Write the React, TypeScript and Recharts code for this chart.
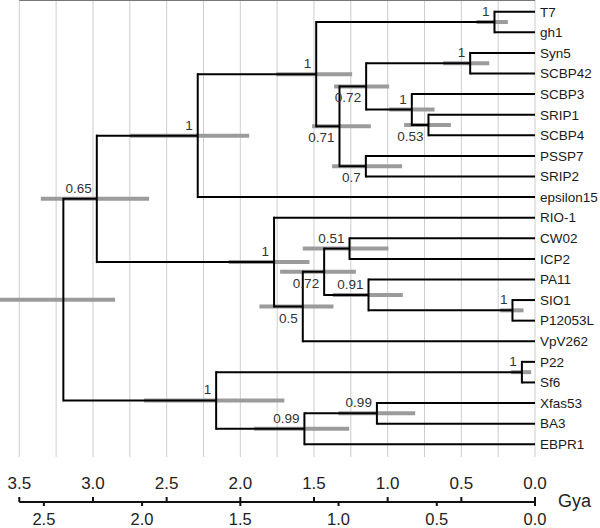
import React from 'react';
import { ComposedChart, XAxis, YAxis, CartesianGrid, ReferenceLine, ReferenceDot, Label, Scatter } from 'recharts';

// ---- data ----
const LEAVES = ['T7', 'gh1', 'Syn5', 'SCBP42', 'SCBP3', 'SRIP1', 'SCBP4', 'PSSP7', 'SRIP2', 'epsilon15', 'RIO-1', 'CW02', 'ICP2', 'PA11', 'SIO1', 'P12053L', 'VpV262', 'P22', 'Sf6', 'Xfas53', 'BA3', 'EBPR1'];

const NODE_IDS = ['n1', 'n2', 'n3', 'n4', 'n5', 'n6', 'n7', 'n8', 'n9', 'n10', 'n11', 'n12', 'n13', 'n14', 'n15', 'n16', 'n17', 'n18', 'n19', 'n20', 'root'];

const NODE_CHILDREN: [string, string][] = [
  ['T7', 'gh1'],
  ['Syn5', 'SCBP42'],
  ['SRIP1', 'SCBP4'],
  ['SCBP3', 'n3'],
  ['n2', 'n4'],
  ['PSSP7', 'SRIP2'],
  ['n5', 'n6'],
  ['n1', 'n7'],
  ['n8', 'epsilon15'],
  ['CW02', 'ICP2'],
  ['SIO1', 'P12053L'],
  ['PA11', 'n11'],
  ['n10', 'n12'],
  ['n13', 'VpV262'],
  ['RIO-1', 'n14'],
  ['n9', 'n15'],
  ['P22', 'Sf6'],
  ['Xfas53', 'BA3'],
  ['n18', 'EBPR1'],
  ['n17', 'n19'],
  ['n16', 'n20'],
];

// node ages (Gya)
const NODE_AGES = [0.275, 0.44, 0.723, 0.836, 1.146, 1.148, 1.327, 1.485, 2.289, 1.259, 0.153, 1.13, 1.431, 1.576, 1.771, 2.974, 0.089, 1.073, 1.565, 2.164, 3.201];
// 95% HPD interval bounds (Gya)
const HPD_OLD = [0.397, 0.623, 0.888, 0.99, 1.363, 1.377, 1.513, 1.757, 2.748, 1.576, 0.236, 1.372, 1.73, 1.87, 2.078, 3.354, 0.162, 1.334, 1.906, 2.653, 3.631];
const HPD_YOUNG = [0.184, 0.311, 0.571, 0.682, 0.99, 0.902, 1.114, 1.241, 1.94, 0.995, 0.078, 0.897, 1.216, 1.368, 1.531, 2.619, 0.026, 0.813, 1.261, 1.701, 2.85];
// posterior support
const SUPPORT = ['1', '1', '0.53', '1', '0.72', '0.7', '0.71', '1', '1', '0.51', '1', '0.91', '0.72', '0.5', '1', '0.65', '1', '0.99', '0.99', '1', ''];

const TOP_TICKS = [0, 0.25, 0.5, 0.75, 1, 1.25, 1.5, 1.75, 2, 2.25, 2.5, 2.75, 3, 3.25, 3.5];
const BOTTOM_TICKS = [0, 0.5, 1, 1.5, 2, 2.5];
const TOP_MAX = 3.5;
const BOTTOM_RATIO = 0.75; // second time scale relative to the first

// ---- layout / style ----
const FONT = '"Liberation Sans", Arial, sans-serif';
const LABEL_BELOW = new Set(['n3', 'n5', 'n6', 'n7', 'n13', 'n14']);

const leafIndex: Record<string, number> = {};
LEAVES.forEach((n, i) => { leafIndex[n] = i; });

function yOf(name: string): number {
  if (name in leafIndex) return leafIndex[name];
  const i = NODE_IDS.indexOf(name);
  const [a, b] = NODE_CHILDREN[i];
  return (yOf(a) + yOf(b)) / 2;
}
function ageOf(name: string): number {
  if (name in leafIndex) return 0;
  return NODE_AGES[NODE_IDS.indexOf(name)];
}

const tips = LEAVES.map((name, i) => ({ x: 0, y: i, name }));

const TopTick = (props: any) => {
  const { x, y, payload } = props;
  const v = payload.value;
  if (Math.abs(v * 2 - Math.round(v * 2)) > 1e-6) return null;
  return (
    <g>
      <text x={x} y={y + 32} textAnchor="middle" fontSize={17} fill="#222" fontFamily={FONT}>{v.toFixed(1)}</text>
      <line x1={x} x2={x} y1={y + 40} y2={y + 45} stroke="#111" strokeWidth={2} />
    </g>
  );
};

const BottomTick = (props: any) => {
  const { x, y, payload } = props;
  return (
    <text x={x} y={y + 16.5} textAnchor="middle" fontSize={16.5} fill="#222" fontFamily={FONT}>{payload.value.toFixed(1)}</text>
  );
};

const NoShape = () => <g />;

export default function App() {
  const branches: React.ReactNode[] = [];
  const bars: React.ReactNode[] = [];
  const labels: React.ReactNode[] = [];

  NODE_IDS.forEach((id, i) => {
    const ny = yOf(id);
    const nx = NODE_AGES[i];
    bars.push(
      <ReferenceLine key={'hpd-' + id} xAxisId="a" ifOverflow="visible"
        segment={[{ x: HPD_OLD[i], y: ny }, { x: HPD_YOUNG[i], y: ny }]}
        stroke="#9b9b9b" strokeWidth={4} />
    );
    const [c1, c2] = NODE_CHILDREN[i];
    branches.push(
      <ReferenceLine key={'v-' + id} xAxisId="a" ifOverflow="visible"
        segment={[{ x: nx, y: yOf(c1) }, { x: nx, y: yOf(c2) }]}
        stroke="#000" strokeWidth={2} strokeLinecap="square" />
    );
    [c1, c2].forEach((c) => {
      branches.push(
        <ReferenceLine key={'h-' + id + '-' + c} xAxisId="a" ifOverflow="visible"
          segment={[{ x: nx, y: yOf(c) }, { x: ageOf(c), y: yOf(c) }]}
          stroke="#000" strokeWidth={2} />
      );
    });
    if (SUPPORT[i]) {
      const below = LABEL_BELOW.has(id);
      labels.push(
        <ReferenceDot key={'lab-' + id} xAxisId="a" x={nx} y={ny} r={0} ifOverflow="visible"
          shape={(p: any) => (
            <text x={p.cx - 5} y={below ? p.cy + 16 : p.cy - 6} textAnchor="end"
              fontSize={13.5} fill="#333" fontFamily={FONT}>{SUPPORT[i]}</text>
          )} />
      );
    }
  });

  return (
    <div style={{ position: 'absolute', left: 0, top: 0, fontFamily: FONT }}>
      <ComposedChart width={600} height={528} data={tips} margin={{ top: 0, right: 0, bottom: 0, left: 19.3 }}>
        <CartesianGrid xAxisId="a" horizontal={false} stroke="#cdcdcd" strokeWidth={1} />
        <XAxis xAxisId="a" dataKey="x" type="number" domain={[0, TOP_MAX]} reversed allowDataOverflow
          ticks={TOP_TICKS} interval={0} height={45} axisLine={false} tickLine={false}
          tickSize={0} tickMargin={0} tick={<TopTick />} />
        <XAxis xAxisId="b" dataKey="x" type="number" domain={[0, TOP_MAX * BOTTOM_RATIO]} reversed allowDataOverflow
          ticks={BOTTOM_TICKS} interval={0} height={26}
          axisLine={{ stroke: '#111', strokeWidth: 2 }} tickLine={{ stroke: '#111', strokeWidth: 2 }}
          tickSize={4} tickMargin={2} tick={<BottomTick />}>
          <Label content={(p: any) => {
            const vb = p.viewBox;
            return <text x={vb.x + vb.width + 23} y={vb.y + 5} fontSize={18} fill="#222" fontFamily={FONT}>Gya</text>;
          }} />
        </XAxis>
        <YAxis dataKey="y" type="number" orientation="right" domain={[-0.57, 21.62]} reversed allowDataOverflow
          ticks={LEAVES.map((_, i) => i)} interval={0} width={65} axisLine={false} tickLine={false}
          tickSize={0} tickMargin={5} tickFormatter={(v: number) => LEAVES[v]}
          tick={{ fontSize: 13.5, fill: '#1a1a1a', fontFamily: FONT }} />
        <ReferenceLine xAxisId="a" y={-0.57} stroke="#777" strokeWidth={2} ifOverflow="visible" />
        <Scatter xAxisId="a" dataKey="y" data={tips} shape={NoShape} isAnimationActive={false} />
        <Scatter xAxisId="b" dataKey="y" data={tips} shape={NoShape} isAnimationActive={false} />
        {bars}
        {branches}
        {labels}
      </ComposedChart>
    </div>
  );
}
